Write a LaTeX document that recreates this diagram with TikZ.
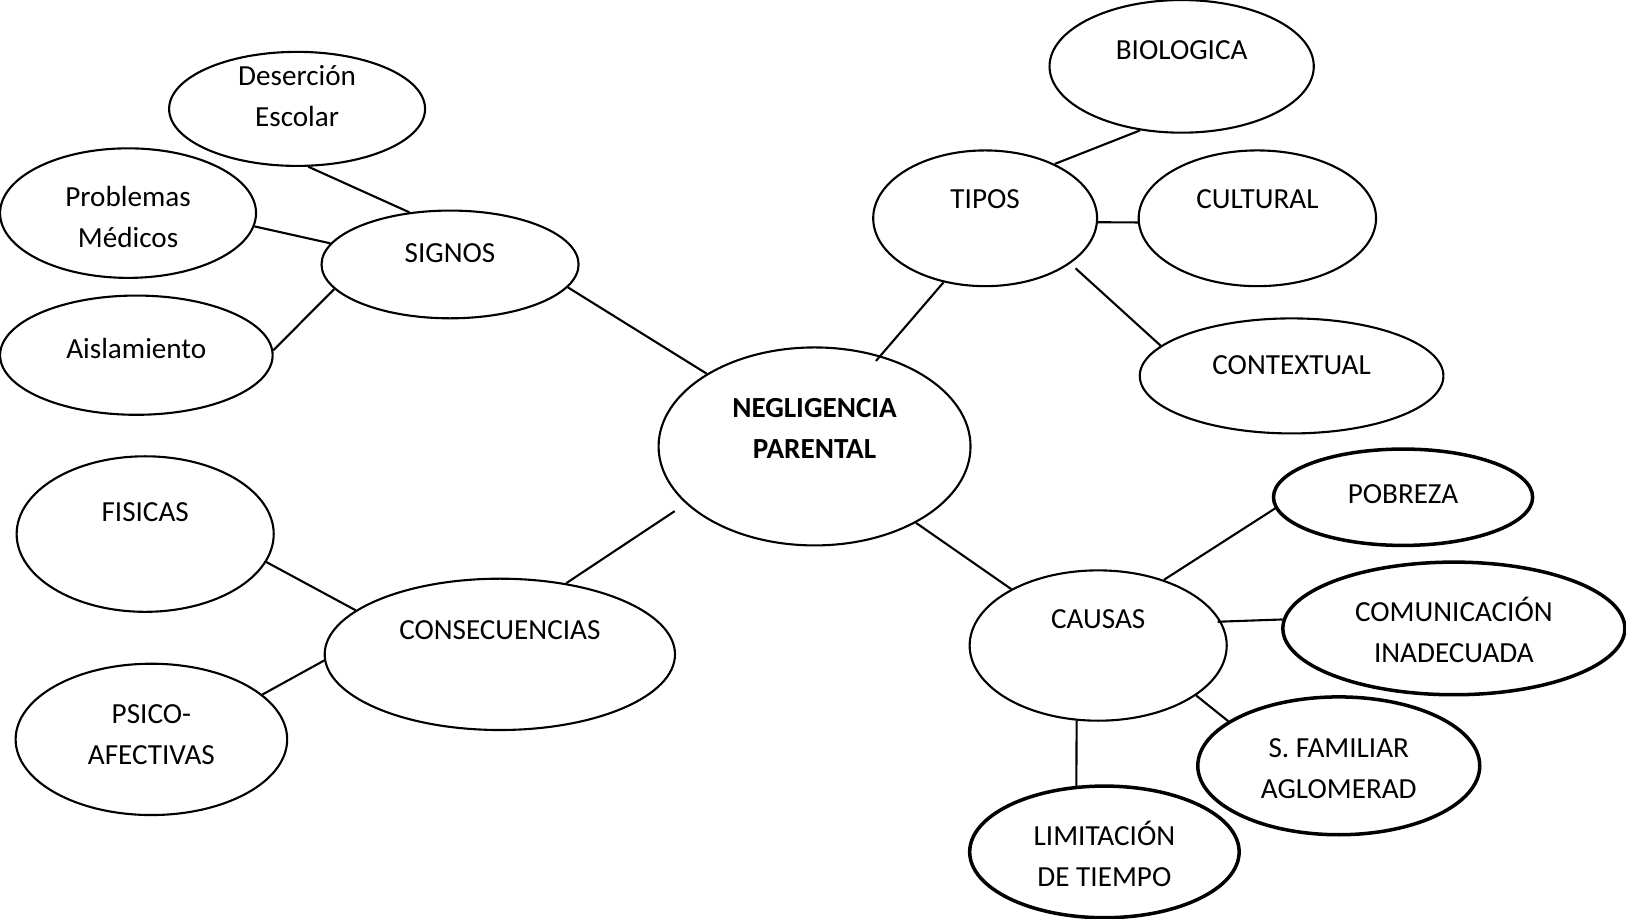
\documentclass[tikz,border=0pt]{standalone}
\usepackage{fontspec}
\setmainfont{Carlito}
\usetikzlibrary{shapes.geometric}

\newlength{\unitpx}
\setlength{\unitpx}{0.01037cm}
\newcommand{\up}[2]{\raisebox{#1\unitpx}[0pt][0pt]{\begin{tabular}{@{}c@{}}#2\end{tabular}}}

\tikzstyle{bubble} = [ellipse, draw=black, line width=0.6pt, inner sep=0pt, text centered]
\tikzstyle{bubble_2} = [ellipse, draw=black, line width=1pt, inner sep=0pt, text centered]
\tikzstyle{link} = [line width=0.6pt]

\begin{document}
\begin{tikzpicture}[x=0.01037cm, y=-0.01037cm]
        \fontsize{8.3}{11.66}\selectfont
        \useasboundingbox (0,0) rectangle (1568,886);
        % centre
        \node (neg) [bubble, minimum width=3.121cm, minimum height=1.981cm] at (785.5,430.5) {\up{9.3}{\textbf{NEGLIGENCIA}\\\textbf{PARENTAL}}};
        % signos
        \node (signos) [bubble, minimum width=2.572cm, minimum height=1.078cm] at (434,255) {\up{2.8}{SIGNOS}};
        \node (desercion) [bubble, minimum width=2.561cm, minimum height=1.141cm] at (286.5,105) {\up{4.3}{Deserción\\Escolar}};
        \node (medicos) [bubble, minimum width=2.561cm, minimum height=1.296cm] at (123.5,205.5) {\up{-12.7}{Problemas\\Médicos}};
        \node (aisla) [bubble, minimum width=2.727cm, minimum height=1.193cm] at (131.5,342.5) {\up{-2.2}{Aislamiento}};
        % tipos
        \node (tipos) [bubble, minimum width=2.240cm, minimum height=1.358cm] at (950,210.5) {\up{10.3}{TIPOS}};
        \node (bio) [bubble, minimum width=2.644cm, minimum height=1.327cm] at (1139.5,64) {\up{7.8}{BIOLOGICA}};
        \node (cult) [bubble, minimum width=2.375cm, minimum height=1.358cm] at (1212.5,210.5) {\up{10.3}{CULTURAL}};
        \node (context) [bubble, minimum width=3.038cm, minimum height=1.151cm] at (1245.5,362.5) {\up{2.3}{CONTEXTUAL}};
        % consecuencias
        \node (conse) [bubble, minimum width=3.505cm, minimum height=1.514cm] at (482,631) {\up{15.8}{CONSECUENCIAS}};
        \node (fis) [bubble, minimum width=2.572cm, minimum height=1.556cm] at (140,515) {\up{12.8}{FISICAS}};
        \node (psico) [bubble, minimum width=2.717cm, minimum height=1.514cm] at (146,713) {\up{-3.7}{PSICO-\\AFECTIVAS}};
        % causas
        \node (causas) [bubble, minimum width=2.572cm, minimum height=1.504cm] at (1059,622.5) {\up{17.3}{CAUSAS}};
        \node (pobreza) [bubble_2, minimum width=2.593cm, minimum height=0.964cm] at (1353,479.5) {\up{-4.7}{POBREZA}};
        \node (comun) [bubble_2, minimum width=3.422cm, minimum height=1.327cm] at (1402,606) {\up{-11.7}{COMUNICACIÓN\\INADECUADA}};
        \node (familia) [bubble_2, minimum width=2.821cm, minimum height=1.379cm] at (1291,738.5) {\up{-10.7}{S. FAMILIAR\\AGLOMERAD}};
        \node (tiempo) [bubble_2, minimum width=2.696cm, minimum height=1.317cm] at (1065,821.5) {\up{-12.7}{LIMITACIÓN\\DE TIEMPO}};

        \draw [link] (desercion.-79) -- (signos.128.5);
        \draw [link] (medicos.-6.2) -- (signos.170.2);
        \draw [link] (aisla.2) -- (signos.192);
        \draw [link] (signos.-11.6) -- (neg.146.1);
        \draw [link] (tipos.38.8) -- (bio.237.7);
        \draw [link] (tipos.-2.9) -- (cult.182.7);
        \draw [link, shorten <=2pt] (tipos.-28.9) -- (context.167.6);
        \draw [link, shorten >=-2pt] (tipos.237.7) -- (neg.54.8);
        \draw [link, shorten <=3.8pt] (neg.204.7) -- (conse.47);
        \draw [link] (fis.-13.4) -- (conse.163.3);
        \draw [link] (psico.22.9) -- (conse.182.4);
        \draw [link] (neg.-37.3) -- (causas.147);
        \draw [link] (causas.45.2) -- (pobreza.185.3);
        \draw [link, shorten <=-1pt] (causas.11.6) -- (comun.177.6);
        \draw [link] (causas.-27.5) -- (familia.158.3);
        \draw [link] (causas.-106.2) -- (tiempo.113);
    \end{tikzpicture}
\end{document}
